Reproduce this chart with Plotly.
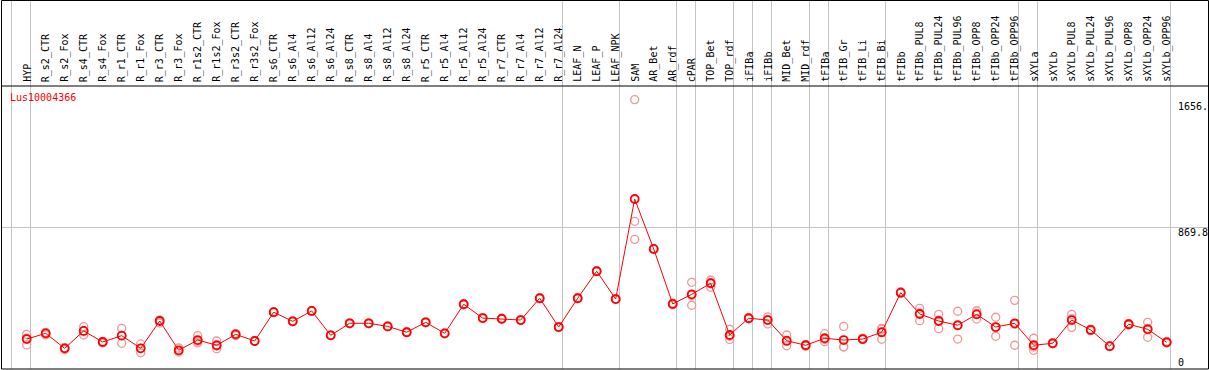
import plotly.graph_objects as go

# ---------------- data ----------------
categories = [
    "HYP", "R_s2_CTR", "R_s2_Fox", "R_s4_CTR", "R_s4_Fox", "R_r1_CTR", "R_r1_Fox",
    "R_r3_CTR", "R_r3_Fox", "R_r1s2_CTR", "R_r1s2_Fox", "R_r3s2_CTR", "R_r3s2_Fox",
    "R_s6_CTR", "R_s6_Al4", "R_s6_Al12", "R_s6_Al24", "R_s8_CTR", "R_s8_Al4",
    "R_s8_Al12", "R_s8_Al24", "R_r5_CTR", "R_r5_Al4", "R_r5_Al12", "R_r5_Al24",
    "R_r7_CTR", "R_r7_Al4", "R_r7_Al12", "R_r7_Al24", "LEAF_N", "LEAF_P", "LEAF_NPK",
    "SAM", "AR_Bet", "AR_rdf", "cPAR", "TOP_Bet", "TOP_rdf", "iFIBa", "iFIBb",
    "MID_Bet", "MID_rdf", "tFIBa", "tFIB_Gr", "tFIB_Li", "tFIB_Bi", "tFIBb",
    "tFIBb_PUL8", "tFIBb_PUL24", "tFIBb_PUL96", "tFIBb_OPP8", "tFIBb_OPP24",
    "tFIBb_OPP96", "sXYLa", "sXYLb", "sXYLb_PUL8", "sXYLb_PUL24", "sXYLb_PUL96",
    "sXYLb_OPP8", "sXYLb_OPP24", "sXYLb_OPP96",
]

mean_values = [
    184, 219, 127, 234, 166, 205, 127, 295, 115, 178, 146, 213, 172,
    349, 293, 357, 207, 281, 281, 262, 226, 287, 219, 398, 313, 309, 301, 435, 258,
    435, 601, 430,
    1045, 738, 400, 459, 527, 209, 312, 301, 174, 146, 189, 178, 184, 226,
    469, 338, 295, 269, 336, 258, 281,
    146, 158, 301, 240, 140, 275, 244, 164,
]

replicate_a = [
    213, 210, 120, 260, 160, 250, 154, 301, 129, 205, 172, 205, 170,
    346, 290, 354, 204, 278, 284, 259, 223, 284, 216, 401, 310, 312, 298, 432, 255,
    438, 598, 433,
    1656, 735, 395, 533, 547, 244, 309, 321, 209, 140, 217, 262, 180, 250,
    475, 373, 336, 355, 358, 318, 422,
    189, 155, 336, 235, 138, 270, 287, 160,
]
replicate_b = [
    148, 225, 130, 209, 170, 158, 100, 283, 104, 160, 125, 218, 174,
    352, 296, 360, 210, 284, 278, 265, 229, 290, 222, 395, 316, 306, 304, 438, 261,
    432, 604, 427,
    908, 741, 405, 392, 502, 182, 315, 277, 143, 150, 168, 137, 190, 183,
    465, 297, 248, 184, 307, 201, 146,
    115, 162, 256, 245, 142, 280, 195, 170,
]
replicate_c = [
    190, 222, 131, 233, 168, 207, 127, 301, 112, 170, 141, 216, 172,
    349, 293, 357, 207, 281, 281, 262, 226, 287, 219, 398, 313, 309, 301, 435, 258,
    435, 601, 430,
    797, 738, 400, 452, 532, 201, 312, 305, 170, 148, 182, 135, 182, 245,
    470, 345, 300, 268, 343, 255, 275,
    135, 158, 310, 240, 140, 275, 250, 163,
]

group_sizes = [1, 28, 3, 3, 1, 2, 1, 1, 2, 1, 3, 7, 1, 7]
gene_id = "Lus10004366"
max_value = 1656.76
grid_value = 869.8
axis_label_texts = ["1656.", "869.8", "0"]

# ---------------- layout helpers ----------------
W, H = 1209, 370
PX_PER_CAT = 19.0
X0_PX = 26.7                      # pixel of first category
PLOT_TOP_PX, PLOT_BOT_PX = 86, 369
y_top_value = max_value * 1.05
units_per_px = y_top_value / (PLOT_BOT_PX - PLOT_TOP_PX)

x_range = [-X0_PX / PX_PER_CAT, (W - X0_PX) / PX_PER_CAT]
y_range = [-(H - PLOT_BOT_PX) * units_per_px, PLOT_BOT_PX * units_per_px]


def px_x(p):
    return p / W


def px_y(p):
    return 1 - p / H


RED = "#ff0000"
PINK = "rgb(240,150,150)"
GRAY = "#c4c4c4"
FONT = "DejaVu Sans Mono"

fig = go.Figure()

n = len(categories)
xs = list(range(n))

# replicates
rx, ry = [], []
for i in range(n):
    for rep in (replicate_a, replicate_b, replicate_c):
        rx.append(i)
        ry.append(rep[i])
fig.add_trace(go.Scatter(
    x=rx, y=ry, mode="markers",
    marker=dict(symbol="circle-open", size=8, color=PINK, line=dict(width=1.3, color=PINK)),
    hoverinfo="skip", showlegend=False,
))

# mean line
fig.add_trace(go.Scatter(
    x=xs, y=mean_values, mode="lines+markers",
    line=dict(color=RED, width=1),
    marker=dict(symbol="circle-open", size=8, color=RED, line=dict(width=1.8, color=RED)),
    showlegend=False,
))

shapes = []
# group separators
boundaries = [-1]
acc = -1
for g in group_sizes:
    acc += g
    boundaries.append(acc)
for b in boundaries:
    shapes.append(dict(type="line", xref="x", yref="paper",
                       x0=b + 0.2, x1=b + 0.2, y0=px_y(0), y1=px_y(PLOT_BOT_PX),
                       line=dict(color=GRAY, width=1), layer="below"))
# grid line at half
shapes.append(dict(type="line", xref="paper", yref="y",
                   x0=px_x(1), x1=px_x(1208), y0=grid_value, y1=grid_value,
                   line=dict(color=GRAY, width=1), layer="below"))
# frame
shapes.append(dict(type="rect", xref="paper", yref="paper",
                   x0=px_x(1.5), x1=px_x(1208.5), y0=px_y(369), y1=px_y(0.5),
                   line=dict(color="black", width=1)))
# header separator
shapes.append(dict(type="line", xref="paper", yref="paper",
                   x0=px_x(1.5), x1=px_x(1208.5), y0=px_y(86), y1=px_y(86),
                   line=dict(color="black", width=1)))

annotations = []
for i, c in enumerate(categories):
    annotations.append(dict(
        x=i, y=px_y(83), xref="x", yref="paper", text=c, showarrow=False,
        textangle=-90, xanchor="center", yanchor="bottom", borderpad=0,
        font=dict(family=FONT, size=10, color="black"),
    ))
annotations.append(dict(
    x=px_x(9), y=px_y(97), xref="paper", yref="paper", text=gene_id, showarrow=False,
    xanchor="left", yanchor="middle", borderpad=0,
    font=dict(family=FONT, size=10, color=RED),
))
for txt, cy in zip(axis_label_texts, [107, 232, 362]):
    annotations.append(dict(
        x=px_x(1177), y=px_y(cy), xref="paper", yref="paper", text=txt, showarrow=False,
        xanchor="left", yanchor="middle", borderpad=0,
        font=dict(family=FONT, size=10, color="black"),
    ))

fig.update_layout(
    width=W, height=H,
    margin=dict(l=0, r=0, t=0, b=0, pad=0),
    paper_bgcolor="white", plot_bgcolor="white",
    xaxis=dict(range=x_range, visible=False, fixedrange=True),
    yaxis=dict(range=y_range, visible=False, fixedrange=True),
    shapes=shapes, annotations=annotations,
    showlegend=False,
)

fig.write_html(
    "out.html",
    config={"displayModeBar": False},
    post_script="document.body.style.margin='0';document.body.style.overflow='hidden';",
)
